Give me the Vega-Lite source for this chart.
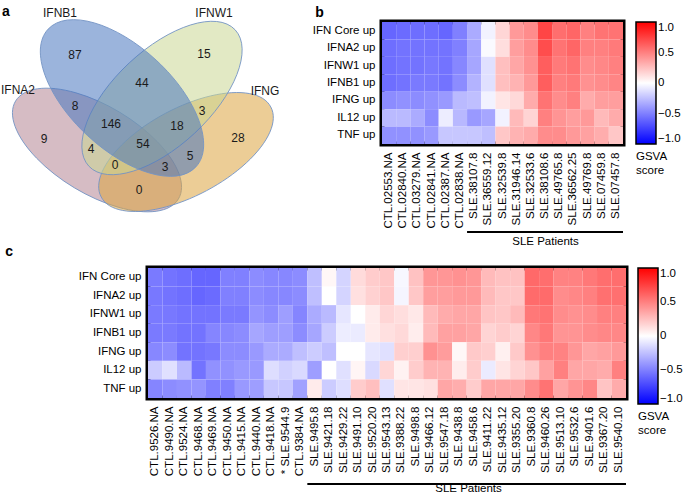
{
  "$schema": "https://vega.github.io/schema/vega-lite/v6.json",
  "padding": {"left": 0, "top": 3, "right": 0, "bottom": 3},
  "background": "white",
  "datasets": {
    "venn_sets": [
      {"set": "IFNA2", "cx": 95, "cy": 147},
      {"set": "IFNG", "cx": 184, "cy": 149},
      {"set": "IFNW1", "cx": 160, "cy": 95},
      {"set": "IFNB1", "cx": 120, "cy": 95}
    ],
    "venn_labels": [
      {"label": "IFNB1", "x": 58, "y": 10},
      {"label": "IFNW1", "x": 212, "y": 10},
      {"label": "IFNA2", "x": 16, "y": 87},
      {"label": "IFNG", "x": 263, "y": 88},
      {"label": "87", "x": 73, "y": 52},
      {"label": "15", "x": 202, "y": 51},
      {"label": "44", "x": 140, "y": 80},
      {"label": "8", "x": 73, "y": 103},
      {"label": "146", "x": 109, "y": 121},
      {"label": "18", "x": 175, "y": 123},
      {"label": "3", "x": 200, "y": 108},
      {"label": "28", "x": 236, "y": 135},
      {"label": "9", "x": 42, "y": 136},
      {"label": "4", "x": 89, "y": 146},
      {"label": "54", "x": 141, "y": 141},
      {"label": "5", "x": 188, "y": 153},
      {"label": "0", "x": 113, "y": 162},
      {"label": "3", "x": 163, "y": 164},
      {"label": "0", "x": 137, "y": 187}
    ],
    "panel_a": [
      {"label": "a", "x": 4, "y": 9}
    ],
    "heat_b": [
      {"sample": "CTL.02553.NA", "set": "IFN Core up", "score": -0.6},
      {"sample": "CTL.02840.NA", "set": "IFN Core up", "score": -0.58},
      {"sample": "CTL.03279.NA", "set": "IFN Core up", "score": -0.57},
      {"sample": "CTL.02841.NA", "set": "IFN Core up", "score": -0.57},
      {"sample": "CTL.02387.NA", "set": "IFN Core up", "score": -0.6},
      {"sample": "CTL.02838.NA", "set": "IFN Core up", "score": -0.5},
      {"sample": "SLE.38107.8", "set": "IFN Core up", "score": -0.33},
      {"sample": "SLE.36559.12", "set": "IFN Core up", "score": -0.05},
      {"sample": "SLE.32539.8", "set": "IFN Core up", "score": 0.16},
      {"sample": "SLE.31946.14", "set": "IFN Core up", "score": 0.4},
      {"sample": "SLE.32533.6", "set": "IFN Core up", "score": 0.45},
      {"sample": "SLE.38108.6", "set": "IFN Core up", "score": 0.73},
      {"sample": "SLE.49765.8", "set": "IFN Core up", "score": 0.57},
      {"sample": "SLE.36562.25", "set": "IFN Core up", "score": 0.6},
      {"sample": "SLE.49769.8", "set": "IFN Core up", "score": 0.5},
      {"sample": "SLE.07459.8", "set": "IFN Core up", "score": 0.55},
      {"sample": "SLE.07457.8", "set": "IFN Core up", "score": 0.55},
      {"sample": "CTL.02553.NA", "set": "IFNA2 up", "score": -0.57},
      {"sample": "CTL.02840.NA", "set": "IFNA2 up", "score": -0.55},
      {"sample": "CTL.03279.NA", "set": "IFNA2 up", "score": -0.55},
      {"sample": "CTL.02841.NA", "set": "IFNA2 up", "score": -0.55},
      {"sample": "CTL.02387.NA", "set": "IFNA2 up", "score": -0.55},
      {"sample": "CTL.02838.NA", "set": "IFNA2 up", "score": -0.5},
      {"sample": "SLE.38107.8", "set": "IFNA2 up", "score": -0.35},
      {"sample": "SLE.36559.12", "set": "IFNA2 up", "score": -0.02},
      {"sample": "SLE.32539.8", "set": "IFNA2 up", "score": 0.13},
      {"sample": "SLE.31946.14", "set": "IFNA2 up", "score": 0.38},
      {"sample": "SLE.32533.6", "set": "IFNA2 up", "score": 0.45},
      {"sample": "SLE.38108.6", "set": "IFNA2 up", "score": 0.7},
      {"sample": "SLE.49765.8", "set": "IFNA2 up", "score": 0.55},
      {"sample": "SLE.36562.25", "set": "IFNA2 up", "score": 0.6},
      {"sample": "SLE.49769.8", "set": "IFNA2 up", "score": 0.5},
      {"sample": "SLE.07459.8", "set": "IFNA2 up", "score": 0.5},
      {"sample": "SLE.07457.8", "set": "IFNA2 up", "score": 0.52},
      {"sample": "CTL.02553.NA", "set": "IFNW1 up", "score": -0.57},
      {"sample": "CTL.02840.NA", "set": "IFNW1 up", "score": -0.55},
      {"sample": "CTL.03279.NA", "set": "IFNW1 up", "score": -0.55},
      {"sample": "CTL.02841.NA", "set": "IFNW1 up", "score": -0.53},
      {"sample": "CTL.02387.NA", "set": "IFNW1 up", "score": -0.55},
      {"sample": "CTL.02838.NA", "set": "IFNW1 up", "score": -0.47},
      {"sample": "SLE.38107.8", "set": "IFNW1 up", "score": -0.35},
      {"sample": "SLE.36559.12", "set": "IFNW1 up", "score": -0.12},
      {"sample": "SLE.32539.8", "set": "IFNW1 up", "score": 0.25},
      {"sample": "SLE.31946.14", "set": "IFNW1 up", "score": 0.35},
      {"sample": "SLE.32533.6", "set": "IFNW1 up", "score": 0.43},
      {"sample": "SLE.38108.6", "set": "IFNW1 up", "score": 0.63},
      {"sample": "SLE.49765.8", "set": "IFNW1 up", "score": 0.52},
      {"sample": "SLE.36562.25", "set": "IFNW1 up", "score": 0.55},
      {"sample": "SLE.49769.8", "set": "IFNW1 up", "score": 0.45},
      {"sample": "SLE.07459.8", "set": "IFNW1 up", "score": 0.47},
      {"sample": "SLE.07457.8", "set": "IFNW1 up", "score": 0.5},
      {"sample": "CTL.02553.NA", "set": "IFNB1 up", "score": -0.57},
      {"sample": "CTL.02840.NA", "set": "IFNB1 up", "score": -0.55},
      {"sample": "CTL.03279.NA", "set": "IFNB1 up", "score": -0.52},
      {"sample": "CTL.02841.NA", "set": "IFNB1 up", "score": -0.52},
      {"sample": "CTL.02387.NA", "set": "IFNB1 up", "score": -0.55},
      {"sample": "CTL.02838.NA", "set": "IFNB1 up", "score": -0.45},
      {"sample": "SLE.38107.8", "set": "IFNB1 up", "score": -0.3},
      {"sample": "SLE.36559.12", "set": "IFNB1 up", "score": -0.12},
      {"sample": "SLE.32539.8", "set": "IFNB1 up", "score": 0.25},
      {"sample": "SLE.31946.14", "set": "IFNB1 up", "score": 0.3},
      {"sample": "SLE.32533.6", "set": "IFNB1 up", "score": 0.4},
      {"sample": "SLE.38108.6", "set": "IFNB1 up", "score": 0.63},
      {"sample": "SLE.49765.8", "set": "IFNB1 up", "score": 0.5},
      {"sample": "SLE.36562.25", "set": "IFNB1 up", "score": 0.52},
      {"sample": "SLE.49769.8", "set": "IFNB1 up", "score": 0.43},
      {"sample": "SLE.07459.8", "set": "IFNB1 up", "score": 0.45},
      {"sample": "SLE.07457.8", "set": "IFNB1 up", "score": 0.48},
      {"sample": "CTL.02553.NA", "set": "IFNG up", "score": -0.45},
      {"sample": "CTL.02840.NA", "set": "IFNG up", "score": -0.43},
      {"sample": "CTL.03279.NA", "set": "IFNG up", "score": -0.45},
      {"sample": "CTL.02841.NA", "set": "IFNG up", "score": -0.43},
      {"sample": "CTL.02387.NA", "set": "IFNG up", "score": -0.4},
      {"sample": "CTL.02838.NA", "set": "IFNG up", "score": -0.27},
      {"sample": "SLE.38107.8", "set": "IFNG up", "score": -0.25},
      {"sample": "SLE.36559.12", "set": "IFNG up", "score": -0.05},
      {"sample": "SLE.32539.8", "set": "IFNG up", "score": 0.1},
      {"sample": "SLE.31946.14", "set": "IFNG up", "score": 0.15},
      {"sample": "SLE.32533.6", "set": "IFNG up", "score": 0.33},
      {"sample": "SLE.38108.6", "set": "IFNG up", "score": 0.55},
      {"sample": "SLE.49765.8", "set": "IFNG up", "score": 0.45},
      {"sample": "SLE.36562.25", "set": "IFNG up", "score": 0.5},
      {"sample": "SLE.49769.8", "set": "IFNG up", "score": 0.33},
      {"sample": "SLE.07459.8", "set": "IFNG up", "score": 0.38},
      {"sample": "SLE.07457.8", "set": "IFNG up", "score": 0.38},
      {"sample": "CTL.02553.NA", "set": "IL12 up", "score": -0.27},
      {"sample": "CTL.02840.NA", "set": "IL12 up", "score": -0.27},
      {"sample": "CTL.03279.NA", "set": "IL12 up", "score": -0.33},
      {"sample": "CTL.02841.NA", "set": "IL12 up", "score": -0.45},
      {"sample": "CTL.02387.NA", "set": "IL12 up", "score": -0.07},
      {"sample": "CTL.02838.NA", "set": "IL12 up", "score": -0.28},
      {"sample": "SLE.38107.8", "set": "IL12 up", "score": -0.4},
      {"sample": "SLE.36559.12", "set": "IL12 up", "score": -0.35},
      {"sample": "SLE.32539.8", "set": "IL12 up", "score": -0.05},
      {"sample": "SLE.31946.14", "set": "IL12 up", "score": 0.27},
      {"sample": "SLE.32533.6", "set": "IL12 up", "score": 0.17},
      {"sample": "SLE.38108.6", "set": "IL12 up", "score": 0.5},
      {"sample": "SLE.49765.8", "set": "IL12 up", "score": 0.42},
      {"sample": "SLE.36562.25", "set": "IL12 up", "score": 0.38},
      {"sample": "SLE.49769.8", "set": "IL12 up", "score": 0.4},
      {"sample": "SLE.07459.8", "set": "IL12 up", "score": 0.27},
      {"sample": "SLE.07457.8", "set": "IL12 up", "score": 0.33},
      {"sample": "CTL.02553.NA", "set": "TNF up", "score": -0.43},
      {"sample": "CTL.02840.NA", "set": "TNF up", "score": -0.43},
      {"sample": "CTL.03279.NA", "set": "TNF up", "score": -0.43},
      {"sample": "CTL.02841.NA", "set": "TNF up", "score": -0.4},
      {"sample": "CTL.02387.NA", "set": "TNF up", "score": -0.22},
      {"sample": "CTL.02838.NA", "set": "TNF up", "score": -0.22},
      {"sample": "SLE.38107.8", "set": "TNF up", "score": -0.22},
      {"sample": "SLE.36559.12", "set": "TNF up", "score": -0.25},
      {"sample": "SLE.32539.8", "set": "TNF up", "score": 0.22},
      {"sample": "SLE.31946.14", "set": "TNF up", "score": 0.3},
      {"sample": "SLE.32533.6", "set": "TNF up", "score": 0.33},
      {"sample": "SLE.38108.6", "set": "TNF up", "score": 0.45},
      {"sample": "SLE.49765.8", "set": "TNF up", "score": 0.45},
      {"sample": "SLE.36562.25", "set": "TNF up", "score": 0.4},
      {"sample": "SLE.49769.8", "set": "TNF up", "score": 0.37},
      {"sample": "SLE.07459.8", "set": "TNF up", "score": 0.32},
      {"sample": "SLE.07457.8", "set": "TNF up", "score": 0.22}
    ],
    "heat_c": [
      {"sample": "CTL.9526.NA", "set": "IFN Core up", "score": -0.52},
      {"sample": "CTL.9490.NA", "set": "IFN Core up", "score": -0.55},
      {"sample": "CTL.9524.NA", "set": "IFN Core up", "score": -0.57},
      {"sample": "CTL.9468.NA", "set": "IFN Core up", "score": -0.6},
      {"sample": "CTL.9469.NA", "set": "IFN Core up", "score": -0.6},
      {"sample": "CTL.9450.NA", "set": "IFN Core up", "score": -0.5},
      {"sample": "CTL.9415.NA", "set": "IFN Core up", "score": -0.5},
      {"sample": "CTL.9440.NA", "set": "IFN Core up", "score": -0.45},
      {"sample": "CTL.9418.NA", "set": "IFN Core up", "score": -0.47},
      {"sample": "* SLE.9544.9", "set": "IFN Core up", "score": -0.47},
      {"sample": "CTL.9384.NA", "set": "IFN Core up", "score": -0.45},
      {"sample": "SLE.9495.8", "set": "IFN Core up", "score": -0.25},
      {"sample": "SLE.9421.18", "set": "IFN Core up", "score": 0.03},
      {"sample": "SLE.9429.22", "set": "IFN Core up", "score": -0.17},
      {"sample": "SLE.9491.10", "set": "IFN Core up", "score": 0.14},
      {"sample": "SLE.9520.20", "set": "IFN Core up", "score": 0.2},
      {"sample": "SLE.9543.13", "set": "IFN Core up", "score": 0.22},
      {"sample": "SLE.9388.22", "set": "IFN Core up", "score": -0.03},
      {"sample": "SLE.9498.8", "set": "IFN Core up", "score": 0.24},
      {"sample": "SLE.9466.12", "set": "IFN Core up", "score": 0.41},
      {"sample": "SLE.9547.18", "set": "IFN Core up", "score": 0.41},
      {"sample": "SLE.9438.8", "set": "IFN Core up", "score": 0.43},
      {"sample": "SLE.9458.6", "set": "IFN Core up", "score": 0.41},
      {"sample": "SLE.9411.22", "set": "IFN Core up", "score": 0.27},
      {"sample": "SLE.9435.12", "set": "IFN Core up", "score": 0.24},
      {"sample": "SLE.9355.20", "set": "IFN Core up", "score": 0.24},
      {"sample": "SLE.9360.8", "set": "IFN Core up", "score": 0.59},
      {"sample": "SLE.9460.26", "set": "IFN Core up", "score": 0.57},
      {"sample": "SLE.9513.10", "set": "IFN Core up", "score": 0.49},
      {"sample": "SLE.9532.6", "set": "IFN Core up", "score": 0.49},
      {"sample": "SLE.9401.6", "set": "IFN Core up", "score": 0.53},
      {"sample": "SLE.9367.20", "set": "IFN Core up", "score": 0.57},
      {"sample": "SLE.9540.10", "set": "IFN Core up", "score": 0.57},
      {"sample": "CTL.9526.NA", "set": "IFNA2 up", "score": -0.53},
      {"sample": "CTL.9490.NA", "set": "IFNA2 up", "score": -0.55},
      {"sample": "CTL.9524.NA", "set": "IFNA2 up", "score": -0.57},
      {"sample": "CTL.9468.NA", "set": "IFNA2 up", "score": -0.6},
      {"sample": "CTL.9469.NA", "set": "IFNA2 up", "score": -0.58},
      {"sample": "CTL.9450.NA", "set": "IFNA2 up", "score": -0.5},
      {"sample": "CTL.9415.NA", "set": "IFNA2 up", "score": -0.5},
      {"sample": "CTL.9440.NA", "set": "IFNA2 up", "score": -0.45},
      {"sample": "CTL.9418.NA", "set": "IFNA2 up", "score": -0.47},
      {"sample": "* SLE.9544.9", "set": "IFNA2 up", "score": -0.47},
      {"sample": "CTL.9384.NA", "set": "IFNA2 up", "score": -0.45},
      {"sample": "SLE.9495.8", "set": "IFNA2 up", "score": -0.25},
      {"sample": "SLE.9421.18", "set": "IFNA2 up", "score": 0},
      {"sample": "SLE.9429.22", "set": "IFNA2 up", "score": -0.17},
      {"sample": "SLE.9491.10", "set": "IFNA2 up", "score": 0.12},
      {"sample": "SLE.9520.20", "set": "IFNA2 up", "score": 0.18},
      {"sample": "SLE.9543.13", "set": "IFNA2 up", "score": 0.22},
      {"sample": "SLE.9388.22", "set": "IFNA2 up", "score": -0.04},
      {"sample": "SLE.9498.8", "set": "IFNA2 up", "score": 0.22},
      {"sample": "SLE.9466.12", "set": "IFNA2 up", "score": 0.38},
      {"sample": "SLE.9547.18", "set": "IFNA2 up", "score": 0.38},
      {"sample": "SLE.9438.8", "set": "IFNA2 up", "score": 0.4},
      {"sample": "SLE.9458.6", "set": "IFNA2 up", "score": 0.4},
      {"sample": "SLE.9411.22", "set": "IFNA2 up", "score": 0.27},
      {"sample": "SLE.9435.12", "set": "IFNA2 up", "score": 0.22},
      {"sample": "SLE.9355.20", "set": "IFNA2 up", "score": 0.22},
      {"sample": "SLE.9360.8", "set": "IFNA2 up", "score": 0.58},
      {"sample": "SLE.9460.26", "set": "IFNA2 up", "score": 0.58},
      {"sample": "SLE.9513.10", "set": "IFNA2 up", "score": 0.45},
      {"sample": "SLE.9532.6", "set": "IFNA2 up", "score": 0.47},
      {"sample": "SLE.9401.6", "set": "IFNA2 up", "score": 0.5},
      {"sample": "SLE.9367.20", "set": "IFNA2 up", "score": 0.56},
      {"sample": "SLE.9540.10", "set": "IFNA2 up", "score": 0.56},
      {"sample": "CTL.9526.NA", "set": "IFNW1 up", "score": -0.52},
      {"sample": "CTL.9490.NA", "set": "IFNW1 up", "score": -0.53},
      {"sample": "CTL.9524.NA", "set": "IFNW1 up", "score": -0.55},
      {"sample": "CTL.9468.NA", "set": "IFNW1 up", "score": -0.55},
      {"sample": "CTL.9469.NA", "set": "IFNW1 up", "score": -0.55},
      {"sample": "CTL.9450.NA", "set": "IFNW1 up", "score": -0.52},
      {"sample": "CTL.9415.NA", "set": "IFNW1 up", "score": -0.52},
      {"sample": "CTL.9440.NA", "set": "IFNW1 up", "score": -0.42},
      {"sample": "CTL.9418.NA", "set": "IFNW1 up", "score": -0.45},
      {"sample": "* SLE.9544.9", "set": "IFNW1 up", "score": -0.38},
      {"sample": "CTL.9384.NA", "set": "IFNW1 up", "score": -0.48},
      {"sample": "SLE.9495.8", "set": "IFNW1 up", "score": -0.33},
      {"sample": "SLE.9421.18", "set": "IFNW1 up", "score": -0.27},
      {"sample": "SLE.9429.22", "set": "IFNW1 up", "score": -0.1},
      {"sample": "SLE.9491.10", "set": "IFNW1 up", "score": 0},
      {"sample": "SLE.9520.20", "set": "IFNW1 up", "score": 0.08},
      {"sample": "SLE.9543.13", "set": "IFNW1 up", "score": 0.16},
      {"sample": "SLE.9388.22", "set": "IFNW1 up", "score": 0.13},
      {"sample": "SLE.9498.8", "set": "IFNW1 up", "score": 0.09},
      {"sample": "SLE.9466.12", "set": "IFNW1 up", "score": 0.27},
      {"sample": "SLE.9547.18", "set": "IFNW1 up", "score": 0.33},
      {"sample": "SLE.9438.8", "set": "IFNW1 up", "score": 0.35},
      {"sample": "SLE.9458.6", "set": "IFNW1 up", "score": 0.35},
      {"sample": "SLE.9411.22", "set": "IFNW1 up", "score": 0.23},
      {"sample": "SLE.9435.12", "set": "IFNW1 up", "score": 0.22},
      {"sample": "SLE.9355.20", "set": "IFNW1 up", "score": 0.27},
      {"sample": "SLE.9360.8", "set": "IFNW1 up", "score": 0.53},
      {"sample": "SLE.9460.26", "set": "IFNW1 up", "score": 0.55},
      {"sample": "SLE.9513.10", "set": "IFNW1 up", "score": 0.45},
      {"sample": "SLE.9532.6", "set": "IFNW1 up", "score": 0.43},
      {"sample": "SLE.9401.6", "set": "IFNW1 up", "score": 0.45},
      {"sample": "SLE.9367.20", "set": "IFNW1 up", "score": 0.5},
      {"sample": "SLE.9540.10", "set": "IFNW1 up", "score": 0.5},
      {"sample": "CTL.9526.NA", "set": "IFNB1 up", "score": -0.52},
      {"sample": "CTL.9490.NA", "set": "IFNB1 up", "score": -0.52},
      {"sample": "CTL.9524.NA", "set": "IFNB1 up", "score": -0.55},
      {"sample": "CTL.9468.NA", "set": "IFNB1 up", "score": -0.55},
      {"sample": "CTL.9469.NA", "set": "IFNB1 up", "score": -0.48},
      {"sample": "CTL.9450.NA", "set": "IFNB1 up", "score": -0.47},
      {"sample": "CTL.9415.NA", "set": "IFNB1 up", "score": -0.45},
      {"sample": "CTL.9440.NA", "set": "IFNB1 up", "score": -0.35},
      {"sample": "CTL.9418.NA", "set": "IFNB1 up", "score": -0.38},
      {"sample": "* SLE.9544.9", "set": "IFNB1 up", "score": -0.38},
      {"sample": "CTL.9384.NA", "set": "IFNB1 up", "score": -0.45},
      {"sample": "SLE.9495.8", "set": "IFNB1 up", "score": -0.35},
      {"sample": "SLE.9421.18", "set": "IFNB1 up", "score": -0.2},
      {"sample": "SLE.9429.22", "set": "IFNB1 up", "score": -0.07},
      {"sample": "SLE.9491.10", "set": "IFNB1 up", "score": -0.08},
      {"sample": "SLE.9520.20", "set": "IFNB1 up", "score": 0.08},
      {"sample": "SLE.9543.13", "set": "IFNB1 up", "score": 0.12},
      {"sample": "SLE.9388.22", "set": "IFNB1 up", "score": 0.15},
      {"sample": "SLE.9498.8", "set": "IFNB1 up", "score": 0.07},
      {"sample": "SLE.9466.12", "set": "IFNB1 up", "score": 0.27},
      {"sample": "SLE.9547.18", "set": "IFNB1 up", "score": 0.37},
      {"sample": "SLE.9438.8", "set": "IFNB1 up", "score": 0.37},
      {"sample": "SLE.9458.6", "set": "IFNB1 up", "score": 0.35},
      {"sample": "SLE.9411.22", "set": "IFNB1 up", "score": 0.17},
      {"sample": "SLE.9435.12", "set": "IFNB1 up", "score": 0.2},
      {"sample": "SLE.9355.20", "set": "IFNB1 up", "score": 0.17},
      {"sample": "SLE.9360.8", "set": "IFNB1 up", "score": 0.47},
      {"sample": "SLE.9460.26", "set": "IFNB1 up", "score": 0.53},
      {"sample": "SLE.9513.10", "set": "IFNB1 up", "score": 0.42},
      {"sample": "SLE.9532.6", "set": "IFNB1 up", "score": 0.42},
      {"sample": "SLE.9401.6", "set": "IFNB1 up", "score": 0.45},
      {"sample": "SLE.9367.20", "set": "IFNB1 up", "score": 0.47},
      {"sample": "SLE.9540.10", "set": "IFNB1 up", "score": 0.47},
      {"sample": "CTL.9526.NA", "set": "IFNG up", "score": -0.47},
      {"sample": "CTL.9490.NA", "set": "IFNG up", "score": -0.45},
      {"sample": "CTL.9524.NA", "set": "IFNG up", "score": -0.55},
      {"sample": "CTL.9468.NA", "set": "IFNG up", "score": -0.55},
      {"sample": "CTL.9469.NA", "set": "IFNG up", "score": -0.53},
      {"sample": "CTL.9450.NA", "set": "IFNG up", "score": -0.45},
      {"sample": "CTL.9415.NA", "set": "IFNG up", "score": -0.45},
      {"sample": "CTL.9440.NA", "set": "IFNG up", "score": -0.4},
      {"sample": "CTL.9418.NA", "set": "IFNG up", "score": -0.33},
      {"sample": "* SLE.9544.9", "set": "IFNG up", "score": -0.33},
      {"sample": "CTL.9384.NA", "set": "IFNG up", "score": -0.25},
      {"sample": "SLE.9495.8", "set": "IFNG up", "score": -0.2},
      {"sample": "SLE.9421.18", "set": "IFNG up", "score": -0.25},
      {"sample": "SLE.9429.22", "set": "IFNG up", "score": 0},
      {"sample": "SLE.9491.10", "set": "IFNG up", "score": 0},
      {"sample": "SLE.9520.20", "set": "IFNG up", "score": -0.1},
      {"sample": "SLE.9543.13", "set": "IFNG up", "score": -0.12},
      {"sample": "SLE.9388.22", "set": "IFNG up", "score": 0.19},
      {"sample": "SLE.9498.8", "set": "IFNG up", "score": 0.19},
      {"sample": "SLE.9466.12", "set": "IFNG up", "score": 0.43},
      {"sample": "SLE.9547.18", "set": "IFNG up", "score": 0.39},
      {"sample": "SLE.9438.8", "set": "IFNG up", "score": 0.03},
      {"sample": "SLE.9458.6", "set": "IFNG up", "score": 0.21},
      {"sample": "SLE.9411.22", "set": "IFNG up", "score": 0.19},
      {"sample": "SLE.9435.12", "set": "IFNG up", "score": 0.06},
      {"sample": "SLE.9355.20", "set": "IFNG up", "score": 0.21},
      {"sample": "SLE.9360.8", "set": "IFNG up", "score": 0.43},
      {"sample": "SLE.9460.26", "set": "IFNG up", "score": 0.5},
      {"sample": "SLE.9513.10", "set": "IFNG up", "score": 0.49},
      {"sample": "SLE.9532.6", "set": "IFNG up", "score": 0.41},
      {"sample": "SLE.9401.6", "set": "IFNG up", "score": 0.35},
      {"sample": "SLE.9367.20", "set": "IFNG up", "score": 0.37},
      {"sample": "SLE.9540.10", "set": "IFNG up", "score": 0.4},
      {"sample": "CTL.9526.NA", "set": "IL12 up", "score": -0.2},
      {"sample": "CTL.9490.NA", "set": "IL12 up", "score": -0.12},
      {"sample": "CTL.9524.NA", "set": "IL12 up", "score": -0.27},
      {"sample": "CTL.9468.NA", "set": "IL12 up", "score": -0.55},
      {"sample": "CTL.9469.NA", "set": "IL12 up", "score": -0.43},
      {"sample": "CTL.9450.NA", "set": "IL12 up", "score": -0.43},
      {"sample": "CTL.9415.NA", "set": "IL12 up", "score": -0.4},
      {"sample": "CTL.9440.NA", "set": "IL12 up", "score": -0.4},
      {"sample": "CTL.9418.NA", "set": "IL12 up", "score": -0.13},
      {"sample": "* SLE.9544.9", "set": "IL12 up", "score": -0.18},
      {"sample": "CTL.9384.NA", "set": "IL12 up", "score": -0.15},
      {"sample": "SLE.9495.8", "set": "IL12 up", "score": -0.38},
      {"sample": "SLE.9421.18", "set": "IL12 up", "score": 0},
      {"sample": "SLE.9429.22", "set": "IL12 up", "score": -0.12},
      {"sample": "SLE.9491.10", "set": "IL12 up", "score": 0.04},
      {"sample": "SLE.9520.20", "set": "IL12 up", "score": -0.15},
      {"sample": "SLE.9543.13", "set": "IL12 up", "score": 0.16},
      {"sample": "SLE.9388.22", "set": "IL12 up", "score": 0.05},
      {"sample": "SLE.9498.8", "set": "IL12 up", "score": 0.2},
      {"sample": "SLE.9466.12", "set": "IL12 up", "score": 0.3},
      {"sample": "SLE.9547.18", "set": "IL12 up", "score": 0.3},
      {"sample": "SLE.9438.8", "set": "IL12 up", "score": 0.07},
      {"sample": "SLE.9458.6", "set": "IL12 up", "score": 0.2},
      {"sample": "SLE.9411.22", "set": "IL12 up", "score": -0.08},
      {"sample": "SLE.9435.12", "set": "IL12 up", "score": 0.1},
      {"sample": "SLE.9355.20", "set": "IL12 up", "score": 0.17},
      {"sample": "SLE.9360.8", "set": "IL12 up", "score": 0.22},
      {"sample": "SLE.9460.26", "set": "IL12 up", "score": 0.37},
      {"sample": "SLE.9513.10", "set": "IL12 up", "score": 0.5},
      {"sample": "SLE.9532.6", "set": "IL12 up", "score": 0.35},
      {"sample": "SLE.9401.6", "set": "IL12 up", "score": 0.35},
      {"sample": "SLE.9367.20", "set": "IL12 up", "score": 0.33},
      {"sample": "SLE.9540.10", "set": "IL12 up", "score": 0.5},
      {"sample": "CTL.9526.NA", "set": "TNF up", "score": -0.48},
      {"sample": "CTL.9490.NA", "set": "TNF up", "score": -0.45},
      {"sample": "CTL.9524.NA", "set": "TNF up", "score": -0.43},
      {"sample": "CTL.9468.NA", "set": "TNF up", "score": -0.42},
      {"sample": "CTL.9469.NA", "set": "TNF up", "score": -0.5},
      {"sample": "CTL.9450.NA", "set": "TNF up", "score": -0.5},
      {"sample": "CTL.9415.NA", "set": "TNF up", "score": -0.4},
      {"sample": "CTL.9440.NA", "set": "TNF up", "score": -0.38},
      {"sample": "CTL.9418.NA", "set": "TNF up", "score": -0.22},
      {"sample": "* SLE.9544.9", "set": "TNF up", "score": -0.22},
      {"sample": "CTL.9384.NA", "set": "TNF up", "score": -0.37},
      {"sample": "SLE.9495.8", "set": "TNF up", "score": 0.08},
      {"sample": "SLE.9421.18", "set": "TNF up", "score": -0.2},
      {"sample": "SLE.9429.22", "set": "TNF up", "score": -0.13},
      {"sample": "SLE.9491.10", "set": "TNF up", "score": 0.2},
      {"sample": "SLE.9520.20", "set": "TNF up", "score": 0.25},
      {"sample": "SLE.9543.13", "set": "TNF up", "score": -0.12},
      {"sample": "SLE.9388.22", "set": "TNF up", "score": 0.1},
      {"sample": "SLE.9498.8", "set": "TNF up", "score": 0.1},
      {"sample": "SLE.9466.12", "set": "TNF up", "score": 0.12},
      {"sample": "SLE.9547.18", "set": "TNF up", "score": 0.35},
      {"sample": "SLE.9438.8", "set": "TNF up", "score": 0.32},
      {"sample": "SLE.9458.6", "set": "TNF up", "score": 0.2},
      {"sample": "SLE.9411.22", "set": "TNF up", "score": 0.35},
      {"sample": "SLE.9435.12", "set": "TNF up", "score": 0.35},
      {"sample": "SLE.9355.20", "set": "TNF up", "score": 0.35},
      {"sample": "SLE.9360.8", "set": "TNF up", "score": 0.45},
      {"sample": "SLE.9460.26", "set": "TNF up", "score": 0.55},
      {"sample": "SLE.9513.10", "set": "TNF up", "score": 0.35},
      {"sample": "SLE.9532.6", "set": "TNF up", "score": 0.42},
      {"sample": "SLE.9401.6", "set": "TNF up", "score": 0.47},
      {"sample": "SLE.9367.20", "set": "TNF up", "score": 0.23},
      {"sample": "SLE.9540.10", "set": "TNF up", "score": 0.33}
    ]
  },
  "concat": [
    {
      "hconcat": [
        {
          "width": 139,
          "height": 200,
          "view": {"stroke": null},
          "layer": [
            {
              "data": {"name": "venn_sets"},
              "mark": {"type": "point", "filled": true, "size": 40000, "opacity": 1, "fillOpacity": 0.55, "stroke": "#7393c4", "strokeWidth": 1, "strokeOpacity": 0.9},
              "encoding": {
                "x": {"field": "cx", "type": "quantitative", "scale": {"domain": [146, 285], "nice": false, "zero": false}, "axis": null},
                "y": {"field": "cy", "type": "quantitative", "scale": {"domain": [19, 219], "nice": false, "zero": false, "reverse": true}, "axis": null},
                "fill": {"field": "set", "type": "nominal", "scale": {"domain": ["IFNA2", "IFNG", "IFNW1", "IFNB1"], "range": ["#b58594", "#dca440", "#cad794", "#4977bf"]}, "legend": null},
                "shape": {"field": "set", "type": "nominal", "scale": {"domain": ["IFNA2", "IFNG", "IFNW1", "IFNB1"], "range": [
                  "M -0.8143 -0.4893 A 0.95 0.44 31 1 1 0.8143 0.4893 A 0.95 0.44 31 1 1 -0.8143 -0.4893 Z",
                  "M -0.8476 0.4507 A 0.96 0.435 -28 1 1 0.8476 -0.4507 A 0.96 0.435 -28 1 1 -0.8476 0.4507 Z",
                  "M -0.7314 0.682 A 1 0.48 -43 1 1 0.7314 -0.682 A 1 0.48 -43 1 1 -0.7314 0.682 Z",
                  "M -0.7387 -0.6888 A 1.01 0.51 43 1 1 0.7387 0.6888 A 1.01 0.51 43 1 1 -0.7387 -0.6888 Z"
                ]}, "legend": null}
              }
            },
            {
              "data": {"name": "venn_labels"},
              "mark": {"type": "text", "fontSize": 12, "color": "#1a1a1a"},
              "encoding": {
                "x": {"field": "x", "type": "quantitative"},
                "y": {"field": "y", "type": "quantitative"},
                "text": {"field": "label"}
              }
            },
            {
              "data": {"name": "panel_a"},
              "mark": {"type": "text", "fontSize": 14, "fontWeight": "bold", "color": "black"},
              "encoding": {
                "x": {"field": "x", "type": "quantitative"},
                "y": {"field": "y", "type": "quantitative"},
                "text": {"field": "label"}
              }
            }
          ]
        },
        {
          "title": {"text": "b", "dx": 3, "offset": 2},
          "width": 241,
          "height": 122,
          "view": {"stroke": "black", "strokeWidth": 5},
          "layer": [
            {
              "data": {"name": "heat_b"},
              "mark": "rect",
              "encoding": {
                "x": {"field": "sample", "type": "nominal",
                  "scale": {"domain": ["CTL.02553.NA","CTL.02840.NA","CTL.03279.NA","CTL.02841.NA","CTL.02387.NA","CTL.02838.NA","SLE.38107.8","SLE.36559.12","SLE.32539.8","SLE.31946.14","SLE.32533.6","SLE.38108.6","SLE.49765.8","SLE.36562.25","SLE.49769.8","SLE.07459.8","SLE.07457.8"], "paddingInner": 0, "paddingOuter": 0},
                  "axis": {"title": "SLE Patients", "labelAngle": 270, "labelAlign": "right", "labelBaseline": "middle", "labelPadding": 8, "titleX": 163, "titleY": 97, "titleBaseline": "middle", "titleAlign": "center"}},
                "y": {"field": "set", "type": "nominal",
                  "scale": {"domain": ["IFN Core up","IFNA2 up","IFNW1 up","IFNB1 up","IFNG up","IL12 up","TNF up"], "paddingInner": 0, "paddingOuter": 0},
                  "axis": {"title": null, "labelPadding": 7}},
                "color": {"field": "score", "type": "quantitative",
                  "scale": {"domain": [-1, 0, 1], "range": ["#0000ff", "#ffffff", "#ff0000"], "interpolate": "rgb"},
                  "legend": {"title": ["GSVA", "score"], "titleOrient": "bottom", "gradientLength": 122, "offset": 9, "values": [-1, -0.5, 0, 0.5, 1], "labelExpr": "datum.value == 0 ? '0' : format(datum.value, '.1f')"}}
              }
            },
            {
              "data": {"values": [{"first": "SLE.38107.8", "last": "SLE.07457.8"}]},
              "mark": {"type": "rule", "strokeWidth": 2, "color": "black"},
              "encoding": {
                "x": {"field": "first", "type": "nominal", "bandPosition": 0},
                "x2": {"field": "last", "bandPosition": 1},
                "y": {"value": 210}
              }
            }
          ]
        }
      ],
      "spacing": 22,
      "align": "each"
    },
    {
      "title": {"text": "c", "dx": -73, "offset": 9},
      "width": 478,
      "height": 130,
      "view": {"stroke": "black", "strokeWidth": 5},
      "layer": [
        {
          "data": {"name": "heat_c"},
          "mark": "rect",
          "encoding": {
            "x": {"field": "sample", "type": "nominal",
              "scale": {"domain": ["CTL.9526.NA","CTL.9490.NA","CTL.9524.NA","CTL.9468.NA","CTL.9469.NA","CTL.9450.NA","CTL.9415.NA","CTL.9440.NA","CTL.9418.NA","* SLE.9544.9","CTL.9384.NA","SLE.9495.8","SLE.9421.18","SLE.9429.22","SLE.9491.10","SLE.9520.20","SLE.9543.13","SLE.9388.22","SLE.9498.8","SLE.9466.12","SLE.9547.18","SLE.9438.8","SLE.9458.6","SLE.9411.22","SLE.9435.12","SLE.9355.20","SLE.9360.8","SLE.9460.26","SLE.9513.10","SLE.9532.6","SLE.9401.6","SLE.9367.20","SLE.9540.10"], "paddingInner": 0, "paddingOuter": 0},
              "axis": {"title": "SLE Patients", "labelAngle": 270, "labelAlign": "right", "labelBaseline": "middle", "labelPadding": 8, "titleX": 320, "titleY": 90, "titleBaseline": "middle", "titleAlign": "center"}},
            "y": {"field": "set", "type": "nominal",
              "scale": {"domain": ["IFN Core up","IFNA2 up","IFNW1 up","IFNB1 up","IFNG up","IL12 up","TNF up"], "paddingInner": 0, "paddingOuter": 0},
              "axis": {"title": null, "labelPadding": 7}},
            "color": {"field": "score", "type": "quantitative",
              "scale": {"domain": [-1, 0, 1], "range": ["#0000ff", "#ffffff", "#ff0000"], "interpolate": "rgb"},
              "legend": {"title": ["GSVA", "score"], "titleOrient": "bottom", "gradientLength": 136, "offset": 12, "values": [-1, -0.5, 0, 0.5, 1], "labelExpr": "datum.value == 0 ? '0' : format(datum.value, '.1f')"}}
          }
        },
        {
          "data": {"values": [{"first": "SLE.9495.8", "last": "SLE.9540.10"}]},
          "mark": {"type": "rule", "strokeWidth": 2, "color": "black"},
          "encoding": {
            "x": {"field": "first", "type": "nominal", "bandPosition": 0},
            "x2": {"field": "last", "bandPosition": 1},
            "y": {"value": 216}
          }
        }
      ]
    }
  ],
  "columns": 1,
  "align": "none",
  "spacing": -7,
  "resolve": {"scale": {"color": "independent"}, "legend": {"color": "independent"}},
  "config": {
    "font": "Liberation Sans",
    "axis": {"labelFont": "Liberation Sans", "labelColor": "black", "labelFontSize": 11.5, "ticks": false, "domain": false, "grid": false, "titleFont": "Liberation Sans", "titleFontSize": 11.5, "titleFontWeight": "normal", "titleColor": "black"},
    "title": {"anchor": "start", "frame": "bounds", "fontSize": 14, "fontWeight": "bold", "color": "black", "font": "Liberation Sans"},
    "legend": {"orient": "right", "gradientThickness": 20, "gradientStrokeColor": "black", "gradientStrokeWidth": 1.5, "labelFont": "Liberation Sans", "labelFontSize": 11.5, "labelColor": "black", "labelBaseline": "middle", "titleFont": "Liberation Sans", "titleFontSize": 11.5, "titleFontWeight": "normal", "titleColor": "black", "titleAnchor": "start", "titlePadding": 6}
  }
}
